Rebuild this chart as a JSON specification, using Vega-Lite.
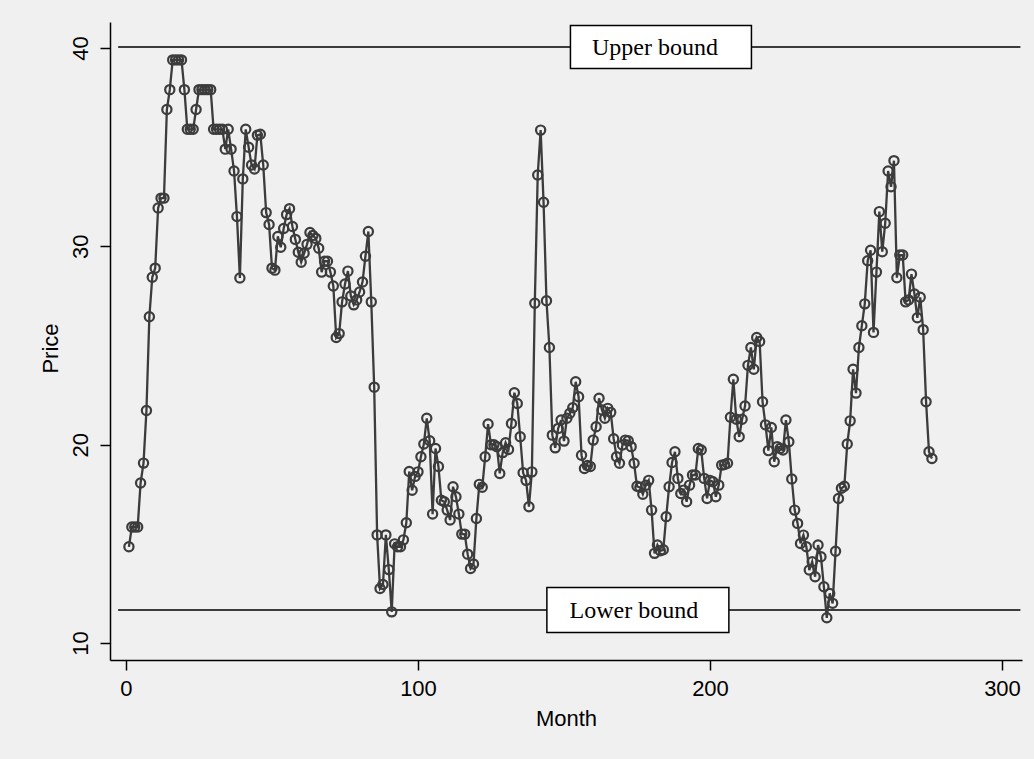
{
  "$schema": "https://vega.github.io/schema/vega-lite/v6.json",
  "width": 912,
  "height": 638,
  "autosize": {"type": "none"},
  "padding": {"left": 110, "top": 22, "right": 12, "bottom": 99},
  "background": "#f0f0f0",
  "config": {
    "view": {"stroke": null},
    "axis": {
      "labelFont": "Liberation Sans",
      "labelFontSize": 22,
      "labelColor": "#000000",
      "titleFont": "Liberation Sans",
      "titleFontSize": 22,
      "titleFontWeight": "normal",
      "titleColor": "#000000",
      "domainColor": "#000000",
      "domainWidth": 1.5,
      "tickColor": "#000000",
      "tickWidth": 1.5,
      "tickSize": 10,
      "grid": false
    }
  },
  "datasets": {
    "series": [
      {"month": 1, "price": 14.85}, {"month": 2, "price": 15.85}, {"month": 3, "price": 15.85}, {"month": 4, "price": 15.85},
      {"month": 5, "price": 18.07}, {"month": 6, "price": 19.07}, {"month": 7, "price": 21.72}, {"month": 8, "price": 26.45},
      {"month": 9, "price": 28.44}, {"month": 10, "price": 28.9}, {"month": 11, "price": 31.93}, {"month": 12, "price": 32.43},
      {"month": 13, "price": 32.43}, {"month": 14, "price": 36.9}, {"month": 15, "price": 37.9}, {"month": 16, "price": 39.4},
      {"month": 17, "price": 39.4}, {"month": 18, "price": 39.4}, {"month": 19, "price": 39.4}, {"month": 20, "price": 37.9},
      {"month": 21, "price": 35.9}, {"month": 22, "price": 35.9}, {"month": 23, "price": 35.9}, {"month": 24, "price": 36.9},
      {"month": 25, "price": 37.9}, {"month": 26, "price": 37.9}, {"month": 27, "price": 37.9}, {"month": 28, "price": 37.9},
      {"month": 29, "price": 37.9}, {"month": 30, "price": 35.9}, {"month": 31, "price": 35.9}, {"month": 32, "price": 35.9},
      {"month": 33, "price": 35.9}, {"month": 34, "price": 34.9}, {"month": 35, "price": 35.9}, {"month": 36, "price": 34.9},
      {"month": 37, "price": 33.8}, {"month": 38, "price": 31.5}, {"month": 39, "price": 28.4}, {"month": 40, "price": 33.4},
      {"month": 41, "price": 35.9}, {"month": 42, "price": 35.0}, {"month": 43, "price": 34.1}, {"month": 44, "price": 33.9},
      {"month": 45, "price": 35.6}, {"month": 46, "price": 35.65}, {"month": 47, "price": 34.1}, {"month": 48, "price": 31.7},
      {"month": 49, "price": 31.1}, {"month": 50, "price": 28.9}, {"month": 51, "price": 28.8}, {"month": 52, "price": 30.5},
      {"month": 53, "price": 29.95}, {"month": 54, "price": 30.9}, {"month": 55, "price": 31.6}, {"month": 56, "price": 31.9},
      {"month": 57, "price": 31.0}, {"month": 58, "price": 30.35}, {"month": 59, "price": 29.7}, {"month": 60, "price": 29.2},
      {"month": 61, "price": 29.65}, {"month": 62, "price": 30.1}, {"month": 63, "price": 30.7}, {"month": 64, "price": 30.55},
      {"month": 65, "price": 30.4}, {"month": 66, "price": 29.9}, {"month": 67, "price": 28.7}, {"month": 68, "price": 29.25},
      {"month": 69, "price": 29.25}, {"month": 70, "price": 28.7}, {"month": 71, "price": 28.0}, {"month": 72, "price": 25.4},
      {"month": 73, "price": 25.6}, {"month": 74, "price": 27.2}, {"month": 75, "price": 28.1}, {"month": 76, "price": 28.75},
      {"month": 77, "price": 27.5}, {"month": 78, "price": 27.05}, {"month": 79, "price": 27.3}, {"month": 80, "price": 27.7},
      {"month": 81, "price": 28.2}, {"month": 82, "price": 29.5}, {"month": 83, "price": 30.75}, {"month": 84, "price": 27.2},
      {"month": 85, "price": 22.9}, {"month": 86, "price": 15.45}, {"month": 87, "price": 12.75}, {"month": 88, "price": 12.95},
      {"month": 89, "price": 15.45}, {"month": 90, "price": 13.7}, {"month": 91, "price": 11.57}, {"month": 92, "price": 15.0},
      {"month": 93, "price": 14.85}, {"month": 94, "price": 14.85}, {"month": 95, "price": 15.2}, {"month": 96, "price": 16.06},
      {"month": 97, "price": 18.65}, {"month": 98, "price": 17.7}, {"month": 99, "price": 18.4}, {"month": 100, "price": 18.63},
      {"month": 101, "price": 19.39}, {"month": 102, "price": 20.03}, {"month": 103, "price": 21.33}, {"month": 104, "price": 20.2},
      {"month": 105, "price": 16.5}, {"month": 106, "price": 19.81}, {"month": 107, "price": 18.9}, {"month": 108, "price": 17.2},
      {"month": 109, "price": 17.12}, {"month": 110, "price": 16.7}, {"month": 111, "price": 16.2}, {"month": 112, "price": 17.88},
      {"month": 113, "price": 17.37}, {"month": 114, "price": 16.5}, {"month": 115, "price": 15.49}, {"month": 116, "price": 15.49},
      {"month": 117, "price": 14.48}, {"month": 118, "price": 13.76}, {"month": 119, "price": 13.98}, {"month": 120, "price": 16.28},
      {"month": 121, "price": 18.0}, {"month": 122, "price": 17.85}, {"month": 123, "price": 19.39}, {"month": 124, "price": 21.04},
      {"month": 125, "price": 20.0}, {"month": 126, "price": 20.0}, {"month": 127, "price": 19.9}, {"month": 128, "price": 18.55},
      {"month": 129, "price": 19.6}, {"month": 130, "price": 20.1}, {"month": 131, "price": 19.76}, {"month": 132, "price": 21.07},
      {"month": 133, "price": 22.62}, {"month": 134, "price": 22.08}, {"month": 135, "price": 20.4}, {"month": 136, "price": 18.58},
      {"month": 137, "price": 18.2}, {"month": 138, "price": 16.87}, {"month": 139, "price": 18.63}, {"month": 140, "price": 27.13},
      {"month": 141, "price": 33.6}, {"month": 142, "price": 35.86}, {"month": 143, "price": 32.22}, {"month": 144, "price": 27.26},
      {"month": 145, "price": 24.9}, {"month": 146, "price": 20.48}, {"month": 147, "price": 19.84}, {"month": 148, "price": 20.82},
      {"month": 149, "price": 21.24}, {"month": 150, "price": 20.18}, {"month": 151, "price": 21.33}, {"month": 152, "price": 21.58},
      {"month": 153, "price": 21.86}, {"month": 154, "price": 23.17}, {"month": 155, "price": 22.42}, {"month": 156, "price": 19.47},
      {"month": 157, "price": 18.8}, {"month": 158, "price": 18.95}, {"month": 159, "price": 18.9}, {"month": 160, "price": 20.23},
      {"month": 161, "price": 20.9}, {"month": 162, "price": 22.34}, {"month": 163, "price": 21.75}, {"month": 164, "price": 21.33},
      {"month": 165, "price": 21.83}, {"month": 166, "price": 21.63}, {"month": 167, "price": 20.3}, {"month": 168, "price": 19.39},
      {"month": 169, "price": 19.06}, {"month": 170, "price": 19.98}, {"month": 171, "price": 20.23}, {"month": 172, "price": 20.2},
      {"month": 173, "price": 19.9}, {"month": 174, "price": 19.06}, {"month": 175, "price": 17.9}, {"month": 176, "price": 17.85},
      {"month": 177, "price": 17.5}, {"month": 178, "price": 17.95}, {"month": 179, "price": 18.2}, {"month": 180, "price": 16.7},
      {"month": 181, "price": 14.52}, {"month": 182, "price": 14.94}, {"month": 183, "price": 14.65}, {"month": 184, "price": 14.7},
      {"month": 185, "price": 16.37}, {"month": 186, "price": 17.88}, {"month": 187, "price": 19.1}, {"month": 188, "price": 19.64},
      {"month": 189, "price": 18.3}, {"month": 190, "price": 17.54}, {"month": 191, "price": 17.71}, {"month": 192, "price": 17.12},
      {"month": 193, "price": 17.96}, {"month": 194, "price": 18.47}, {"month": 195, "price": 18.47}, {"month": 196, "price": 19.81},
      {"month": 197, "price": 19.73}, {"month": 198, "price": 18.3}, {"month": 199, "price": 17.29}, {"month": 200, "price": 18.2},
      {"month": 201, "price": 18.13}, {"month": 202, "price": 17.37}, {"month": 203, "price": 17.96}, {"month": 204, "price": 18.97},
      {"month": 205, "price": 19.0}, {"month": 206, "price": 19.06}, {"month": 207, "price": 21.38}, {"month": 208, "price": 23.3},
      {"month": 209, "price": 21.28}, {"month": 210, "price": 20.4}, {"month": 211, "price": 21.28}, {"month": 212, "price": 21.95},
      {"month": 213, "price": 24.0}, {"month": 214, "price": 24.9}, {"month": 215, "price": 23.8}, {"month": 216, "price": 25.4},
      {"month": 217, "price": 25.2}, {"month": 218, "price": 22.16}, {"month": 219, "price": 21.0}, {"month": 220, "price": 19.7},
      {"month": 221, "price": 20.87}, {"month": 222, "price": 19.14}, {"month": 223, "price": 19.9}, {"month": 224, "price": 19.81},
      {"month": 225, "price": 19.73}, {"month": 226, "price": 21.24}, {"month": 227, "price": 20.15}, {"month": 228, "price": 18.27},
      {"month": 229, "price": 16.7}, {"month": 230, "price": 16.03}, {"month": 231, "price": 15.02}, {"month": 232, "price": 15.44},
      {"month": 233, "price": 14.85}, {"month": 234, "price": 13.68}, {"month": 235, "price": 14.1}, {"month": 236, "price": 13.34},
      {"month": 237, "price": 14.94}, {"month": 238, "price": 14.35}, {"month": 239, "price": 12.84}, {"month": 240, "price": 11.27},
      {"month": 241, "price": 12.5}, {"month": 242, "price": 12.0}, {"month": 243, "price": 14.63}, {"month": 244, "price": 17.29},
      {"month": 245, "price": 17.8}, {"month": 246, "price": 17.9}, {"month": 247, "price": 20.03}, {"month": 248, "price": 21.2},
      {"month": 249, "price": 23.8}, {"month": 250, "price": 22.6}, {"month": 251, "price": 24.9}, {"month": 252, "price": 26.0},
      {"month": 253, "price": 27.1}, {"month": 254, "price": 29.27}, {"month": 255, "price": 29.8}, {"month": 256, "price": 25.66},
      {"month": 257, "price": 28.7}, {"month": 258, "price": 31.75}, {"month": 259, "price": 29.73}, {"month": 260, "price": 31.16},
      {"month": 261, "price": 33.8}, {"month": 262, "price": 33.0}, {"month": 263, "price": 34.32}, {"month": 264, "price": 28.42},
      {"month": 265, "price": 29.56}, {"month": 266, "price": 29.56}, {"month": 267, "price": 27.2}, {"month": 268, "price": 27.3},
      {"month": 269, "price": 28.6}, {"month": 270, "price": 27.6}, {"month": 271, "price": 26.4}, {"month": 272, "price": 27.43},
      {"month": 273, "price": 25.8}, {"month": 274, "price": 22.16}, {"month": 275, "price": 19.64}, {"month": 276, "price": 19.3}
    ],
    "bounds": [
      {"label": "Upper bound", "bound": 40.05},
      {"label": "Lower bound", "bound": 11.66}
    ]
  },
  "layer": [
    {
      "data": {"name": "bounds"},
      "mark": {"type": "rule", "color": "#000000", "strokeWidth": 1.5},
      "encoding": {
        "y": {"field": "bound", "type": "quantitative", "scale": {"domain": [9.143, 41.311], "nice": false, "zero": false}},
        "x": {"datum": -2.7, "type": "quantitative", "scale": {"domain": [-5.479, 306.85], "nice": false, "zero": false}},
        "x2": {"datum": 306.3}
      }
    },
    {
      "data": {"name": "series"},
      "mark": {"type": "line", "color": "#3c3c3c", "strokeWidth": 2.3},
      "encoding": {
        "x": {"field": "month", "type": "quantitative", "title": "Month",
              "axis": {"values": [0, 100, 200, 300], "labelPadding": 8, "titleY": 58, "titleBaseline": "middle"}},
        "y": {"field": "price", "type": "quantitative", "title": "Price",
              "axis": {"values": [10, 20, 30, 40], "labelAngle": -90, "labelAlign": "center", "labelBaseline": "bottom", "labelPadding": 8,
                       "titleAngle": -90, "titleX": -60, "titleY": 326, "titleAlign": "center", "titleBaseline": "middle"}}
      }
    },
    {
      "data": {"name": "series"},
      "mark": {"type": "point", "filled": false, "stroke": "#3c3c3c", "strokeWidth": 2.2, "size": 85, "opacity": 1},
      "encoding": {
        "x": {"field": "month", "type": "quantitative"},
        "y": {"field": "price", "type": "quantitative"}
      }
    },
    {
      "data": {"name": "bounds"},
      "transform": [{"filter": "datum.label === 'Upper bound'"}],
      "layer": [
        {
          "mark": {"type": "point", "shape": "M-1,-0.2376L1,-0.2376L1,0.2376L-1,0.2376Z", "filled": true, "fill": "#ffffff", "stroke": "#000000", "strokeWidth": 1.5, "size": 32761, "opacity": 1},
          "encoding": {"x": {"datum": 183.2, "type": "quantitative"}, "y": {"field": "bound", "type": "quantitative"}}
        },
        {
          "mark": {"type": "text", "font": "Liberation Serif", "fontSize": 24, "color": "#000000", "align": "center", "baseline": "middle", "dx": -6, "dy": 1},
          "encoding": {"x": {"datum": 183.2, "type": "quantitative"}, "y": {"field": "bound", "type": "quantitative"}, "text": {"field": "label"}}
        }
      ]
    },
    {
      "data": {"name": "bounds"},
      "transform": [{"filter": "datum.label === 'Lower bound'"}],
      "layer": [
        {
          "mark": {"type": "point", "shape": "M-1,-0.2473L1,-0.2473L1,0.2473L-1,0.2473Z", "filled": true, "fill": "#ffffff", "stroke": "#000000", "strokeWidth": 1.5, "size": 33124, "opacity": 1},
          "encoding": {"x": {"datum": 175.3, "type": "quantitative"}, "y": {"field": "bound", "type": "quantitative"}}
        },
        {
          "mark": {"type": "text", "font": "Liberation Serif", "fontSize": 24, "color": "#000000", "align": "center", "baseline": "middle", "dx": -4, "dy": 1},
          "encoding": {"x": {"datum": 175.3, "type": "quantitative"}, "y": {"field": "bound", "type": "quantitative"}, "text": {"field": "label"}}
        }
      ]
    }
  ]
}
